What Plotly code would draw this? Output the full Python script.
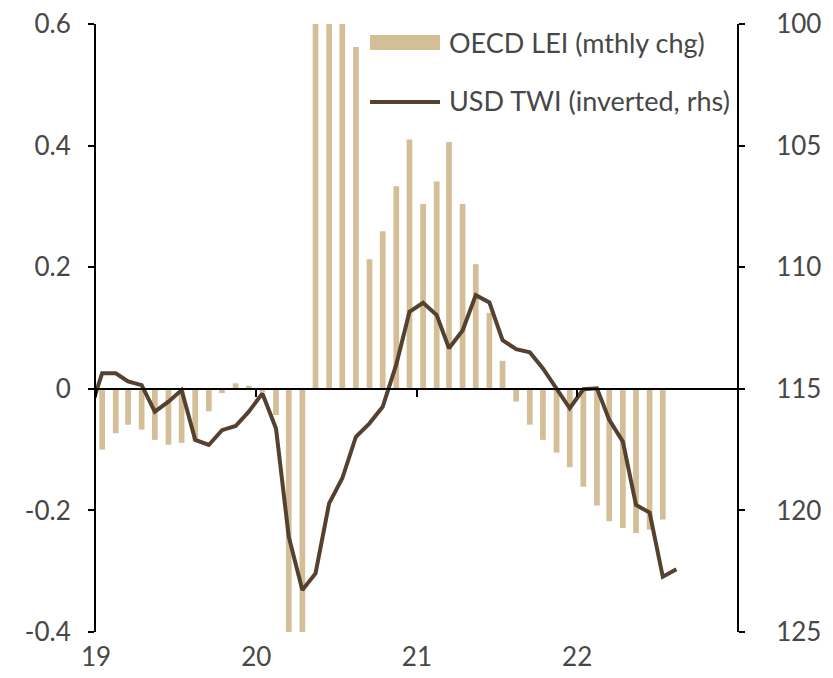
import pandas as pd
import plotly.graph_objects as go

# OECD LEI, monthly change (Jan 2019 - Jul 2022)
lei_chg = [
    -0.100, -0.073, -0.059, -0.067, -0.084, -0.092, -0.089, -0.085, -0.037, -0.007, 0.009, 0.005,
    -0.005, -0.043, -0.62, -0.55, 0.78, 0.92, 0.70, 0.562, 0.213, 0.259, 0.333, 0.410,
    0.304, 0.341, 0.406, 0.304, 0.205, 0.125, 0.046, -0.021, -0.059, -0.084, -0.105, -0.129,
    -0.161, -0.192, -0.218, -0.229, -0.237, -0.232, -0.215,
]
# USD trade-weighted index (Dec 2018 - Aug 2022)
usd_twi = [
    116.1,
    114.36, 114.36, 114.7, 114.85, 115.94, 115.53, 115.05, 117.1, 117.31, 116.7, 116.53, 115.94,
    115.19, 116.63, 121.08, 123.27, 122.59, 119.71, 118.68, 116.97, 116.42, 115.74, 114.0, 111.83,
    111.46, 111.97, 113.33, 112.6, 111.15, 111.45, 113.0, 113.37, 113.5, 114.16, 115.0, 115.8,
    115.02, 114.98, 116.28, 117.17, 119.78, 120.09, 122.73, 122.42,
]
left_ticks = [-0.4, -0.2, 0, 0.2, 0.4, 0.6]
left_text = ["-0.4", "-0.2", "0", "0.2", "0.4", "0.6"]
right_ticks = [100, 105, 110, 115, 120, 125]
year_ticks = ["2019-01-01", "2020-01-01", "2021-01-01", "2022-01-01"]
year_text = ["19", "20", "21", "22"]

lei_dates = pd.date_range("2019-01-01", periods=len(lei_chg), freq="MS") + pd.Timedelta(days=14)
twi_dates = pd.date_range("2018-12-01", periods=len(usd_twi), freq="MS") + pd.Timedelta(days=14)

BAR = "#D3BE97"
LINE = "#55412F"
TXT = "#474747"
FONT = "Lato"
xr = ["2019-01-01", "2022-12-31"]

fig = go.Figure()
fig.add_trace(go.Bar(x=lei_dates, y=lei_chg, marker_color=BAR, marker_line_width=0,
                     width=13 * 86400000, name="OECD LEI (mthly chg)"))
fig.add_trace(go.Scatter(x=twi_dates, y=usd_twi, mode="lines", xaxis="x2", yaxis="y2",
                         line=dict(color=LINE, width=4), name="USD TWI (inverted, rhs)"))

# the page body adds 8px around the figure, so the figure is 8px smaller each way
fig.update_layout(
    width=825, height=670,
    margin=dict(l=88, r=96, t=16, b=46),
    plot_bgcolor="white", paper_bgcolor="white",
    showlegend=False,
    font=dict(family=FONT, size=26, color=TXT),
    xaxis=dict(range=xr, tickvals=year_ticks, ticktext=year_text, ticks="", automargin=False,
               showline=False, showgrid=False, zeroline=False, ticklabelstandoff=7,
               ticklabeloverflow="allow"),
    xaxis2=dict(range=xr, overlaying="x", anchor="free", position=0.4, side="bottom",
                showline=True, linecolor="black", linewidth=2, automargin=False,
                tickvals=year_ticks, ticks="outside", ticklen=7, tickwidth=2, tickcolor="black",
                showticklabels=False, showgrid=False, zeroline=False),
    yaxis=dict(range=[-0.4, 0.6], tickvals=left_ticks, ticktext=left_text, automargin=False,
               showline=True, linecolor="black", linewidth=2, ticks="outside",
               ticklen=6, tickwidth=2, tickcolor="black", showgrid=False, zeroline=False,
               ticklabelstandoff=12, ticklabeloverflow="allow"),
    yaxis2=dict(range=[125, 100], tickvals=right_ticks, overlaying="y", side="right", anchor="x",
                showline=True, linecolor="black", linewidth=2, ticks="outside", automargin=False,
                ticklen=6, tickwidth=2, tickcolor="black", showgrid=False, zeroline=False,
                ticklabelstandoff=26, ticklabeloverflow="allow"),
)

# legend drawn by hand so the swatches can be as wide as in the original
fig.add_shape(type="rect", xref="paper", yref="paper", x0=0.4275, x1=0.5367, y0=0.9572, y1=0.9819,
              fillcolor=BAR, line_width=0)
fig.add_shape(type="line", xref="paper", yref="paper", x0=0.4275, x1=0.5367, y0=0.8717, y1=0.8717,
              line=dict(color=LINE, width=4))
fig.add_annotation(xref="paper", yref="paper", x=0.5476, y=0.9695, xanchor="left", yanchor="middle",
                   text="OECD LEI (mthly chg)", showarrow=False, font=dict(size=27, color=TXT))
fig.add_annotation(xref="paper", yref="paper", x=0.5476, y=0.874, xanchor="left", yanchor="middle",
                   text="USD TWI (inverted, rhs)", showarrow=False, font=dict(size=27, color=TXT))

fig.write_html("out.html")
